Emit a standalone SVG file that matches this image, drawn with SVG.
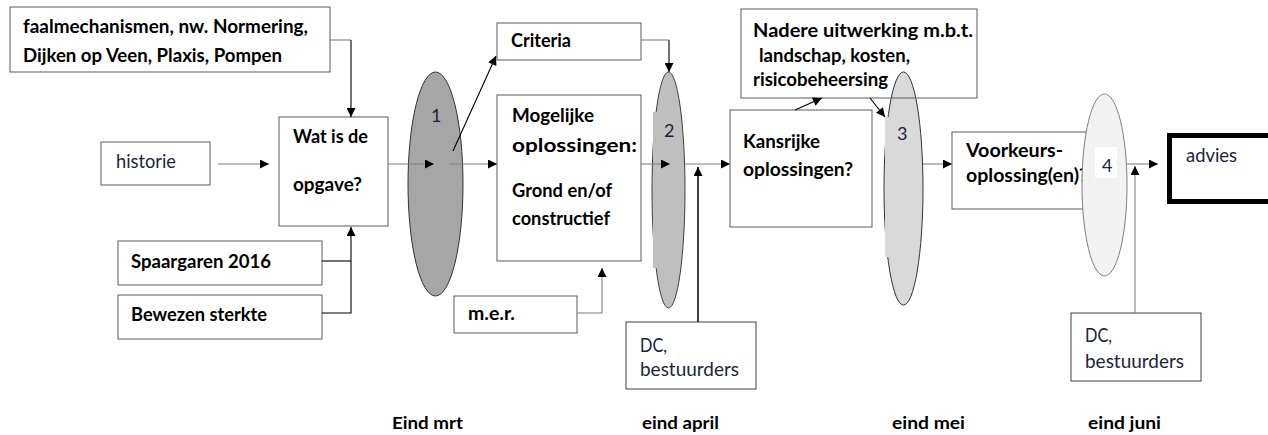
<svg xmlns="http://www.w3.org/2000/svg" width="1268" height="435" viewBox="0 0 1268 435">
<style>
.box{fill:#fff;stroke:#5a5a5a;stroke-width:1}
.b{font-family:Lato,"Liberation Sans",sans-serif;font-weight:bold;font-size:19.5px;fill:#000}
.r{font-family:Lato,"Liberation Sans",sans-serif;font-size:19px;fill:#1c2340}
.n{font-family:Lato,"Liberation Sans",sans-serif;font-size:18px;fill:#1c2340}
.t{font-family:Lato,"Liberation Sans",sans-serif;font-weight:bold;font-size:17px;fill:#000}
.c{fill:none;stroke:#000;stroke-width:1.1}
.g{fill:none;stroke:#808080;stroke-width:1.1}
</style>
<defs>
<marker id="ah" viewBox="0 0 10 10" refX="10" refY="5" markerWidth="11" markerHeight="9" markerUnits="userSpaceOnUse" orient="auto">
<path d="M0,0 L10,5 L0,10 z" fill="#000"/>
</marker>
</defs>
<rect width="1268" height="435" fill="#fff"/>

<g id="faal">
<rect class="box" x="10" y="7" width="320" height="65"/>
<text class="b" x="23" y="33" textLength="285" lengthAdjust="spacingAndGlyphs">faalmechanismen, nw. Normering,</text>
<text class="b" x="23" y="62" textLength="259" lengthAdjust="spacingAndGlyphs">Dijken op Veen, Plaxis, Pompen</text>
</g>
<g id="historie">
<rect class="box" x="101" y="142" width="109" height="43"/>
<text class="r" x="116" y="168" textLength="60" lengthAdjust="spacingAndGlyphs">historie</text>
</g>
<g id="opgave">
<rect class="box" x="279" y="117" width="109" height="109"/>
<text class="b" x="293" y="143" textLength="75" lengthAdjust="spacingAndGlyphs">Wat is de</text>
<text class="b" x="293" y="191" textLength="69" lengthAdjust="spacingAndGlyphs">opgave?</text>
</g>
<g id="spaargaren">
<rect class="box" x="118" y="241" width="204" height="44"/>
<text class="b" x="131" y="268" textLength="140" lengthAdjust="spacingAndGlyphs">Spaargaren 2016</text>
</g>
<g id="bewezen">
<rect class="box" x="118" y="295" width="204" height="44"/>
<text class="b" x="131" y="321" textLength="136" lengthAdjust="spacingAndGlyphs">Bewezen sterkte</text>
</g>
<g id="mijlpaal1">
<ellipse cx="435.5" cy="184" rx="27.5" ry="112" fill="#a6a6a6" stroke="#333" stroke-width="1"/>
<text class="n" x="431" y="122">1</text>
</g>
<g id="criteria">
<rect class="box" x="497" y="23" width="144" height="37"/>
<text class="b" x="511" y="47" textLength="60" lengthAdjust="spacingAndGlyphs">Criteria</text>
</g>
<g id="mogelijke">
<rect class="box" x="497" y="95" width="144" height="166"/>
<text class="b" x="512" y="122" textLength="82" lengthAdjust="spacingAndGlyphs">Mogelijke</text>
<text class="b" x="512" y="152" textLength="125" lengthAdjust="spacingAndGlyphs">oplossingen:</text>
<text class="b" x="512" y="197" textLength="100" lengthAdjust="spacingAndGlyphs">Grond en/of</text>
<text class="b" x="512" y="225" textLength="98" lengthAdjust="spacingAndGlyphs">constructief</text>
</g>
<g id="mer">
<rect class="box" x="454" y="296" width="123" height="37"/>
<text class="b" x="468" y="320" textLength="47" lengthAdjust="spacingAndGlyphs">m.e.r.</text>
</g>
<g id="mijlpaal2">
<ellipse cx="668.5" cy="190" rx="16.5" ry="118" fill="#bfbfbf" stroke="#404040" stroke-width="1"/>
<rect x="653" y="112" width="15" height="156" fill="#bfbfbf"/>
<text class="n" x="664" y="137">2</text>
</g>
<g id="dc1">
<rect class="box" x="626" y="322" width="130" height="67" style="stroke:#404040"/>
<text class="r" x="640" y="352" textLength="27" lengthAdjust="spacingAndGlyphs">DC,</text>
<text class="r" x="640" y="376" textLength="99" lengthAdjust="spacingAndGlyphs">bestuurders</text>
</g>
<g id="kansrijke">
<rect class="box" x="730" y="110" width="142" height="117"/>
<text class="b" x="743" y="148" textLength="77" lengthAdjust="spacingAndGlyphs">Kansrijke</text>
<text class="b" x="743" y="176" textLength="110" lengthAdjust="spacingAndGlyphs">oplossingen?</text>
</g>
<g id="mijlpaal3">
<ellipse cx="903.5" cy="188.5" rx="19.5" ry="116.5" fill="#d9d9d9" stroke="#333" stroke-width="1"/>
<rect x="885" y="117" width="15" height="140" fill="#d9d9d9"/>
<text class="n" x="897" y="140">3</text>
</g>
<g id="nadere">
<rect x="741" y="9" width="236" height="89" fill="none" stroke="#5a5a5a" stroke-width="1"/>
<text class="b" x="753" y="37" textLength="220" lengthAdjust="spacingAndGlyphs">Nadere uitwerking m.b.t.</text>
<text class="b" x="759" y="62" textLength="151" lengthAdjust="spacingAndGlyphs">landschap, kosten,</text>
<text class="b" x="753" y="86" textLength="135" lengthAdjust="spacingAndGlyphs">risicobeheersing</text>
</g>
<g id="voorkeur">
<rect class="box" x="952" y="132" width="135" height="77"/>
<text class="b" x="966" y="157" textLength="97" lengthAdjust="spacingAndGlyphs">Voorkeurs-</text>
<text class="b" x="966" y="182" textLength="122" lengthAdjust="spacingAndGlyphs">oplossing(en)?</text>
</g>
<g id="mijlpaal4">
<ellipse cx="1104.5" cy="185" rx="22.5" ry="91" fill="#f2f2f2" stroke="#7f7f7f" stroke-width="1"/>
<rect x="1095" y="147" width="22" height="31" fill="#fff"/>
<text class="n" x="1102" y="172">4</text>
</g>
<g id="advies">
<rect x="1169.5" y="135.5" width="120" height="66" fill="#fff" stroke="#000" stroke-width="5"/>
<text class="r" x="1186" y="162" textLength="51" lengthAdjust="spacingAndGlyphs">advies</text>
</g>
<g id="dc2">
<rect class="box" x="1071" y="313" width="130" height="68" style="stroke:#404040"/>
<text class="r" x="1085" y="342" textLength="27" lengthAdjust="spacingAndGlyphs">DC,</text>
<text class="r" x="1085" y="368" textLength="99" lengthAdjust="spacingAndGlyphs">bestuurders</text>
</g>

<g id="connectors">
<path class="g" d="M330,40 H351"/>
<path class="c" d="M351,40 V117" marker-end="url(#ah)"/>
<path class="g" d="M218,164 H269" marker-end="url(#ah)"/>
<path class="c" d="M322,261 H351"/>
<path class="c" d="M322,313 H351 V227" marker-end="url(#ah)"/>
<path class="g" d="M388,164 H434" marker-end="url(#ah)"/>
<path class="g" d="M449,164 H497" marker-end="url(#ah)"/>
<path class="c" d="M453,151 L496,56" marker-end="url(#ah)"/>
<path class="g" d="M641,40 H669"/>
<path class="c" d="M669,40 V72" marker-end="url(#ah)"/>
<path class="g" d="M641,164 H670" marker-end="url(#ah)"/>
<path class="g" d="M685,164 H730" marker-end="url(#ah)"/>
<path class="c" d="M698,322 V167" style="stroke-width:1.5" marker-end="url(#ah)"/>
<path class="g" d="M577,313 H602 V268" marker-end="url(#ah)"/>
<path class="c" d="M795,110 L822,98" marker-end="url(#ah)"/>
<path class="c" d="M870,98 L885,117" marker-end="url(#ah)"/>
<path class="g" d="M923,164 H952" marker-end="url(#ah)"/>
<path class="g" d="M1127,164 H1158" marker-end="url(#ah)"/>
<path class="g" d="M1135,313 V166" marker-end="url(#ah)"/>
</g>

<g id="tijdlijn">
<text class="t" x="392" y="429" textLength="71" lengthAdjust="spacingAndGlyphs">Eind mrt</text>
<text class="t" x="642" y="429" textLength="77" lengthAdjust="spacingAndGlyphs">eind april</text>
<text class="t" x="892" y="429" textLength="73" lengthAdjust="spacingAndGlyphs">eind mei</text>
<text class="t" x="1088" y="429" textLength="73" lengthAdjust="spacingAndGlyphs">eind juni</text>
</g>
</svg>
